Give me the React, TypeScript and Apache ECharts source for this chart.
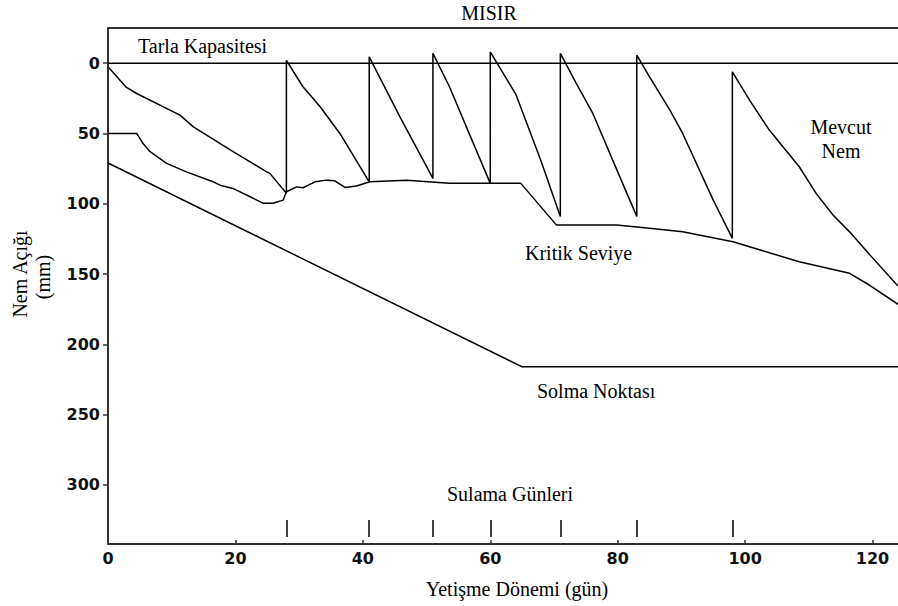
import React, { useEffect, useRef } from "react";
import * as echarts from "echarts";

// Tarla Kapasitesi (field capacity) – deficit 0
const tarlaKapasitesi: [number, number][] = [
  [0, 0],
  [124, 0],
];

// Mevcut Nem (current soil moisture deficit, mm) – sawtooth with irrigation jumps
const mevcutNem: [number, number][] = [
  [0, 2.6], [2.9, 17.3], [4.5, 21.6], [11.3, 37], [13.4, 45.3], [19.7, 63.1], [24.9, 77.3], [25.4, 78.4], [28, 92.6],
  [28, -2], [30.6, 16.8], [32.2, 25.1], [33.3, 31], [36.4, 50], [41, 84.4],
  [41, -4.5], [45.8, 38], [51, 82],
  [51, -7], [53.6, 16.8], [56.5, 48], [60, 85.5],
  [60, -8], [64, 22], [68, 70], [71, 109],
  [71, -6.9], [73.5, 14.4], [76.1, 35.8], [81.9, 97.4], [83, 109],
  [83, -5.7], [85, 9.7], [88.2, 33.4], [90.2, 50], [95, 97.4], [98, 124.6],
  [98, 6.2], [100.7, 26.3], [103.8, 47.6], [108.5, 73.7], [111.2, 93], [113.8, 108], [116.4, 120], [119.5, 136], [124, 158.5],
];

// Kritik Seviye (critical level)
const kritikSeviye: [number, number][] = [
  [0, 50], [4.5, 50], [5.5, 57.1], [6.6, 63], [9.2, 71.3], [12.3, 77.3], [16.5, 84.4], [17.6, 86.8], [19.6, 89.1],
  [24.4, 99.7], [25.9, 99.7], [27.5, 97.4], [28, 91.5], [29.6, 88], [30.6, 88.6], [32.5, 84.4], [34.3, 83.2],
  [35.6, 83.7], [37.2, 88.4], [39, 87.4], [41.1, 84.4], [46.9, 83.2], [53.6, 85.5], [64.8, 85.5], [70.4, 115.2],
  [79.8, 115.2], [85, 117.5], [90.2, 119.9], [98.1, 127], [108.5, 141.3], [116.4, 149.5], [119.5, 157.8], [124, 171.5],
];

// Solma Noktası (wilting point)
const solmaNoktasi: [number, number][] = [
  [0, 71],
  [65, 216],
  [124, 216],
];

// Sulama Günleri (irrigation days)
const sulamaGunleri: number[] = [28, 41, 51, 60, 71, 83, 98];
const sulamaTickRange: [number, number] = [325, 337];

const xTicks: number[] = [0, 20, 40, 60, 80, 100, 120];
const yTicks: number[] = [0, 50, 100, 150, 200, 250, 300];

const SERIF = "'Liberation Serif', 'Times New Roman', serif";
const TXT = 20;

export default function App() {
  const ref = useRef<HTMLDivElement>(null);

  useEffect(() => {
    if (!ref.current) return;
    document.body.style.margin = "0";
    const chart = echarts.init(ref.current, undefined, { renderer: "svg" });
    const lineStyle = { color: "#000", width: 1.5 };
    const axisColor = "#333";

    const text = (t: string, x: number, y: number, align = "left", extra: any = {}) => ({
      type: "text",
      x,
      y,
      style: {
        text: t,
        fill: "#000",
        font: `${TXT}px ${SERIF}`,
        textAlign: align,
        textVerticalAlign: "middle",
      },
      ...extra,
    });

    const axisFont = {
      color: "#111",
      fontFamily: "'DejaVu Sans', sans-serif",
      fontWeight: "bold",
      fontSize: 16,
    };

    chart.setOption({
      animation: false,
      grid: { left: 108, top: 28, right: 0, bottom: 62, outerBoundsMode: "none" },
      xAxis: [
        {
          type: "value",
          position: "bottom",
          min: 0,
          max: 124,
          axisLine: { show: true, onZero: false, lineStyle: { color: axisColor, width: 2 } },
          axisTick: { show: true, inside: true, length: 4, customValues: xTicks, lineStyle: { color: axisColor, width: 1.5 } },
          axisLabel: { customValues: xTicks, margin: 6, ...axisFont },
          splitLine: { show: false },
        },
        {
          type: "value",
          position: "top",
          min: 0,
          max: 124,
          axisLine: { show: true, onZero: false, lineStyle: { color: axisColor, width: 2 } },
          axisTick: { show: false },
          axisLabel: { show: false },
          splitLine: { show: false },
        },
      ],
      yAxis: {
        type: "value",
        inverse: true,
        min: -25,
        max: 342,
        axisLine: { show: true, onZero: false, lineStyle: { color: axisColor, width: 2 } },
        axisTick: { show: true, length: 5, customValues: yTicks, lineStyle: { color: axisColor, width: 1.5 } },
        axisLabel: { customValues: yTicks, margin: 8, ...axisFont },
        splitLine: { show: false },
      },
      series: [
        {
          name: "Tarla Kapasitesi",
          type: "line",
          data: tarlaKapasitesi,
          symbol: "none",
          lineStyle,
        },
        {
          name: "Mevcut Nem",
          type: "line",
          data: mevcutNem,
          symbol: "none",
          lineStyle,
        },
        {
          name: "Kritik Seviye",
          type: "line",
          data: kritikSeviye,
          symbol: "none",
          lineStyle,
        },
        {
          name: "Solma Noktası",
          type: "line",
          data: solmaNoktasi,
          symbol: "none",
          lineStyle,
          markLine: {
            silent: true,
            symbol: "none",
            label: { show: false },
            lineStyle: { color: "#000", width: 1.5, type: "solid" },
            data: sulamaGunleri.map((d) => [
              { coord: [d, sulamaTickRange[0]] },
              { coord: [d, sulamaTickRange[1]] },
            ]),
          },
        },
      ],
      graphic: [
        text("MISIR", 489, 13, "center"),
        text("Tarla Kapasitesi", 138, 46, "left"),
        text("Mevcut", 841, 127, "center"),
        text("Nem", 841, 151, "center"),
        text("Kritik Seviye", 525, 253, "left"),
        text("Solma Noktası", 537, 391, "left"),
        text("Sulama Günleri", 510, 494, "center"),
        text("Yetişme Dönemi (gün)", 517, 589, "center"),
        text("Nem Açığı", 20, 274, "center", { rotation: Math.PI / 2 }),
        text("(mm)", 43, 277, "center", { rotation: Math.PI / 2 }),
      ],
    });

    return () => chart.dispose();
  }, []);

  return <div ref={ref} style={{ width: 898, height: 606 }} />;
}
